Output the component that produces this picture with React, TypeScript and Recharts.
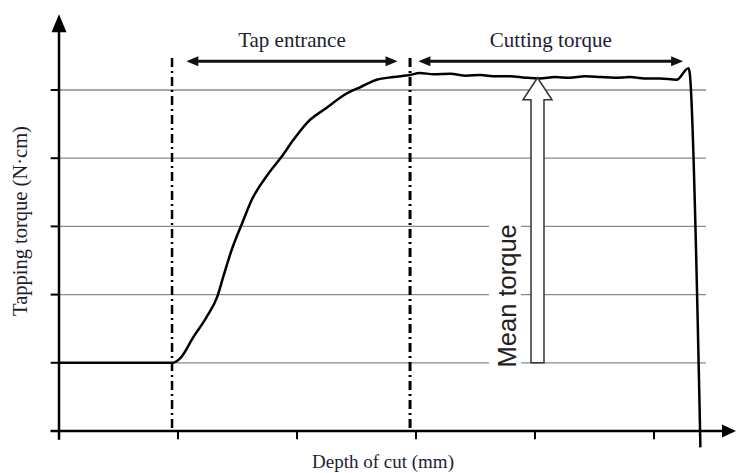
import { LineChart, Line, XAxis, YAxis, ReferenceLine } from "recharts";

// depth of cut (tick units) vs tapping torque (grid units)
const depth = [
  0, 0.5, 0.95, 1.02, 1.13, 1.24, 1.33, 1.38, 1.45, 1.54, 1.62, 1.75, 1.87, 1.97,
  2.09, 2.25, 2.4, 2.53, 2.67, 2.81, 2.95, 3.03, 3.15, 3.29, 3.42, 3.54, 3.67,
  3.79, 3.92, 4.04, 4.17, 4.29, 4.42, 4.55, 4.67, 4.8, 4.92, 5.05, 5.19, 5.29,
  5.3, 5.39,
];
const torque = [
  1, 1, 1, 1.07, 1.38, 1.67, 1.97, 2.26, 2.65, 3.05, 3.39, 3.75, 4.02, 4.27,
  4.53, 4.74, 4.93, 5.04, 5.15, 5.19, 5.22, 5.25, 5.23, 5.24, 5.21, 5.22, 5.2,
  5.2, 5.18, 5.17, 5.19, 5.18, 5.2, 5.19, 5.18, 5.19, 5.17, 5.17, 5.15, 5.32,
  5.25, -0.24,
];

const depthTicks = [0, 1, 2, 3, 4, 5];
const torqueTicks = [0, 1, 2, 3, 4, 5];
const gridLevels = [1, 2, 3, 4, 5];
const phaseBounds = [0.95, 2.95];
const meanTorque = 5.18;
const baseTorque = 1;

const data = depth.map((d, i) => ({ depth: d, torque: torque[i] }));

const SERIF = '"Liberation Serif", "Times New Roman", serif';
const SANS = '"Liberation Sans", Arial, sans-serif';
const INK = "#1d1d33";

const DoubleArrow = ({ x1, y1, x2, text }: any) => {
  const hl = 12;
  const hw = 5;
  return (
    <g>
      <line x1={x1 + hl - 1} y1={y1} x2={x2 - hl + 1} y2={y1} stroke="#111" strokeWidth={3} />
      <polygon points={`${x1},${y1} ${x1 + hl},${y1 - hw} ${x1 + hl},${y1 + hw}`} fill="#111" />
      <polygon points={`${x2},${y1} ${x2 - hl},${y1 - hw} ${x2 - hl},${y1 + hw}`} fill="#111" />
      <text x={(x1 + x2) / 2} y={y1 - 14} textAnchor="middle" fontFamily={SERIF} fontSize={21} fill={INK}>
        {text}
      </text>
    </g>
  );
};

const AxisArrow = ({ x1, y1, x2, y2, len, half }: any) => {
  const dx = x2 - x1;
  const dy = y2 - y1;
  const l = Math.hypot(dx, dy);
  const ux = dx / l;
  const uy = dy / l;
  const bx = x2 - ux * len;
  const by = y2 - uy * len;
  return (
    <g>
      <line x1={x1} y1={y1} x2={bx + ux * 2} y2={by + uy * 2} stroke="#000" strokeWidth={2.5} />
      <polygon
        points={`${x2},${y2} ${bx - uy * half},${by + ux * half} ${bx + uy * half},${by - ux * half}`}
        fill="#000"
      />
    </g>
  );
};

const HollowArrow = ({ x1, y1, y2 }: any) => {
  const cx = x1;
  const sw = 6.5;
  const hw = 14.5;
  const hl = 22;
  const hb = y2 + hl;
  const ty = y1 - 67;
  return (
    <g>
      <rect x={cx - 48.5} y={ty - 77} width={32} height={152} fill="#fff" />
      <polygon
        points={`${cx},${y2} ${cx + hw},${hb} ${cx + sw},${hb} ${cx + sw},${y1} ${cx - sw},${y1} ${cx - sw},${hb} ${cx - hw},${hb}`}
        fill="#fff"
        stroke="#333"
        strokeWidth={1.5}
        strokeLinejoin="miter"
      />
      <text
        x={cx - 21.5}
        y={ty}
        transform={`rotate(-90 ${cx - 21.5} ${ty})`}
        textAnchor="middle"
        fontFamily={SANS}
        fontSize={25.5}
        fill="#222"
      >
        Mean torque
      </text>
    </g>
  );
};

export default function App() {
  return (
    <div style={{ position: "absolute", left: 0, top: 0, width: 736, height: 473, background: "#fff" }}>
      <LineChart
        width={736}
        height={473}
        data={data}
        margin={{ top: 8.16, right: 4.65, bottom: 1.08, left: 59 }}
      >
        <XAxis type="number" dataKey="depth" domain={[0, 5.65]} hide />
        <YAxis type="number" domain={[-0.6, 6.2]} ticks={torqueTicks} hide />

        {gridLevels.map((g) => (
          <ReferenceLine
            key={`g${g}`}
            segment={[{ x: 0, y: g }, { x: 5.437, y: g }]}
            stroke="#8a8a8a"
            strokeWidth={1.3}
            ifOverflow="visible"
          />
        ))}

        <Line
          type="monotone"
          dataKey="torque"
          stroke="#000"
          strokeWidth={2.5}
          dot={false}
          isAnimationActive={false}
          strokeLinejoin="round"
        />

        {depthTicks.map((t) => (
          <ReferenceLine
            key={`t${t}`}
            segment={[{ x: t, y: 0 }, { x: t, y: -0.12 }]}
            stroke="#000"
            strokeWidth={2}
            ifOverflow="visible"
          />
        ))}
        {torqueTicks.map((t) => (
          <ReferenceLine
            key={`y${t}`}
            segment={[{ x: -0.07, y: t }, { x: 0, y: t }]}
            stroke="#000"
            strokeWidth={2}
            ifOverflow="visible"
          />
        ))}

        <ReferenceLine
          segment={[{ x: -0.07, y: 0 }, { x: 5.689, y: 0 }]}
          ifOverflow="visible"
          shape={(p: any) => <AxisArrow {...p} len={14} half={6.5} />}
        />
        <ReferenceLine
          segment={[{ x: 0, y: -0.13 }, { x: 0, y: 6.11 }]}
          ifOverflow="visible"
          shape={(p: any) => <AxisArrow {...p} len={18} half={7.5} />}
        />

        {phaseBounds.map((b, i) => (
          <ReferenceLine
            key={`b${b}`}
            segment={[{ x: b, y: 5.47 }, { x: b, y: 0 }]}
            stroke="#000"
            strokeWidth={i === 0 ? 2.5 : 3}
            strokeDasharray="9 4 2 4"
            ifOverflow="visible"
          />
        ))}

        <ReferenceLine
          segment={[{ x: 1.07, y: 5.42 }, { x: 2.845, y: 5.42 }]}
          ifOverflow="visible"
          shape={(p: any) => <DoubleArrow {...p} text="Tap entrance" />}
        />
        <ReferenceLine
          segment={[{ x: 3.02, y: 5.42 }, { x: 5.245, y: 5.42 }]}
          ifOverflow="visible"
          shape={(p: any) => <DoubleArrow {...p} text="Cutting torque" />}
        />

        <ReferenceLine
          segment={[{ x: 4.021, y: baseTorque }, { x: 4.021, y: meanTorque }]}
          ifOverflow="visible"
          shape={(p: any) => <HollowArrow {...p} />}
        />

        <text
          x={27}
          y={221}
          transform="rotate(-90 27 221)"
          textAnchor="middle"
          fontFamily={SERIF}
          fontSize={20.5}
          fill={INK}
        >
          Tapping torque (N·cm)
        </text>
        <text x={383} y={468} textAnchor="middle" fontFamily={SERIF} fontSize={19} fill={INK}>
          Depth of cut (mm)
        </text>
      </LineChart>
    </div>
  );
}
